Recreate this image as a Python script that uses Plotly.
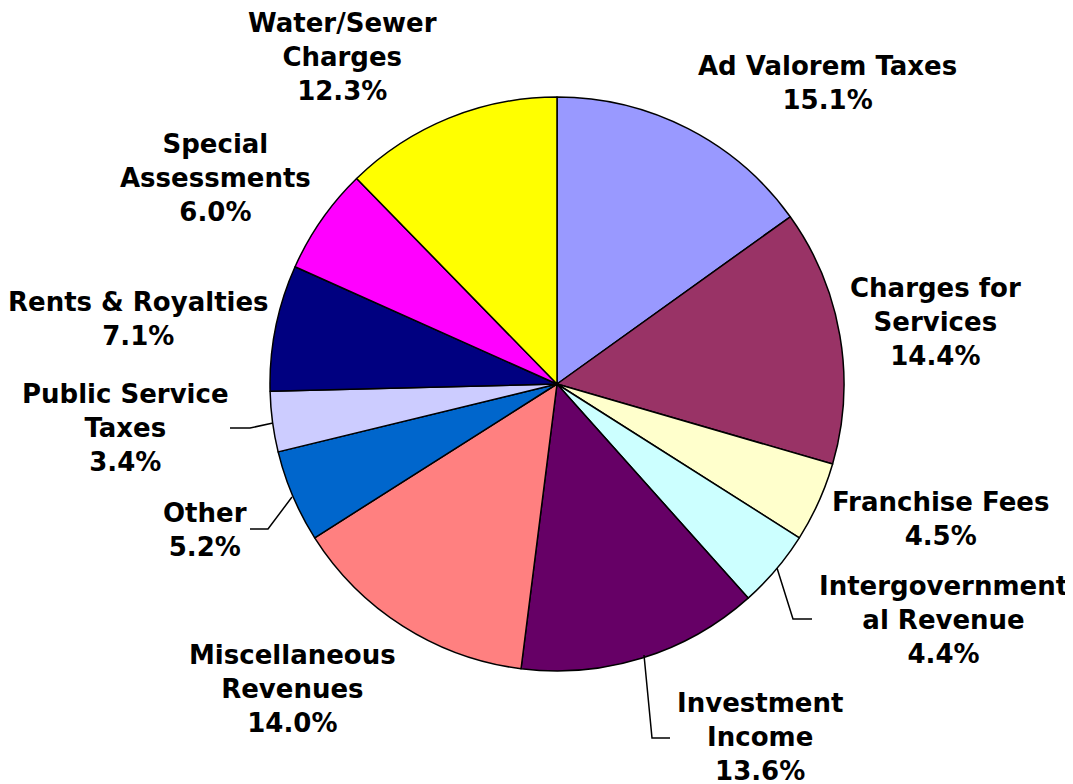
import plotly.graph_objects as go

categories = ["Ad Valorem Taxes", "Charges for Services", "Franchise Fees",
              "Intergovernmental Revenue", "Investment Income", "Miscellaneous Revenues",
              "Other", "Public Service Taxes", "Rents & Royalties",
              "Special Assessments", "Water/Sewer Charges"]
values = [15.1, 14.4, 4.5, 4.4, 13.6, 14.0, 5.2, 3.4, 7.1, 6.0, 12.3]
colors = ["#9999FF", "#993366", "#FFFFCC", "#CCFFFF", "#660066", "#FF8080",
          "#0066CC", "#CCCCFF", "#000080", "#FF00FF", "#FFFF00"]
label_lines = ["Ad Valorem Taxes", "Charges for<br>Services", "Franchise Fees",
               "Intergovernment<br>al Revenue", "Investment<br>Income",
               "Miscellaneous<br>Revenues", "Other", "Public Service<br>Taxes",
               "Rents & Royalties", "Special<br>Assessments", "Water/Sewer<br>Charges"]

W, H = 1073, 784
OFF = 8  # page body margin
cx, cy, r = 557, 384, 287


def px(x):
    return (x - OFF) / W


def py(y):
    return 1 - (y - OFF) / H


fig = go.Figure(go.Pie(
    labels=categories, values=values, sort=False, direction="clockwise", rotation=0,
    marker=dict(colors=colors, line=dict(color="black", width=1.5)),
    textinfo="none", hoverinfo="label+percent", showlegend=False,
    domain=dict(x=[px(cx - r), px(cx + r)], y=[py(cy + r), py(cy - r)]),
))

# label block centres (pixels)
label_pos = [(827, 83), (935, 322), (940, 519), (943, 620), (760, 737), (292, 689),
             (205, 530), (125, 428), (138, 319), (215, 178), (342, 57)]
for txt, v, (x, y) in zip(label_lines, values, label_pos):
    fig.add_annotation(x=px(x), y=py(y), xref="paper", yref="paper",
                       text=f"{txt}<br>{v:.1f}%", showarrow=False,
                       xanchor="center", yanchor="middle", align="center",
                       font=dict(family="DejaVu Sans", size=26, color="black", weight="bold"))

leaders = [
    [(230, 428), (250, 428), (273, 423)],
    [(250, 529), (268, 529), (292, 497)],
    [(812, 619), (793, 619), (777, 568)],
    [(670, 738), (652, 738), (644, 655)],
]
for pts in leaders:
    path = "M " + " L ".join(f"{px(x)},{py(y)}" for x, y in pts)
    fig.add_shape(type="path", path=path, xref="paper", yref="paper",
                  line=dict(color="black", width=1.5))

fig.update_layout(width=W, height=H, margin=dict(l=0, r=0, t=0, b=0),
                  paper_bgcolor="white", plot_bgcolor="white")
fig.write_html("out.html")
